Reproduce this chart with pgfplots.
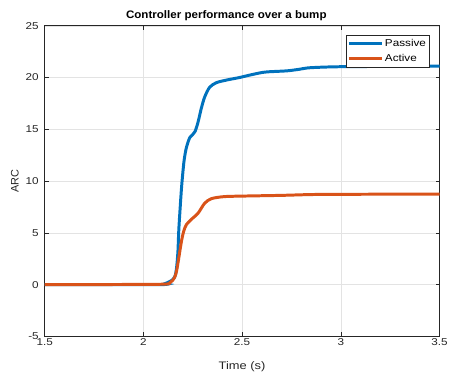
\documentclass[border=0pt]{standalone}
\usepackage{pgfplots}
\pgfplotsset{compat=1.18}
\usepackage{fontspec}
\setmainfont[FakeStretch=1.18]{Liberation Sans}
\newfontfamily\ylfont{Liberation Sans}
\newfontfamily\ttlfont[FakeStretch=1.06]{Liberation Sans}
\definecolor{mblue}{RGB}{0,114,189}
\definecolor{morange}{RGB}{217,83,25}
\definecolor{maxis}{RGB}{38,38,38}
\begin{document}
\begin{tikzpicture}
\begin{axis}[
  scale only axis, width=398pt, height=313pt,
  xmin=1.5, xmax=3.5, ymin=-5, ymax=25,
  xtick={1.5,2,2.5,3,3.5}, ytick={-5,0,5,10,15,20,25},
  xticklabels={1.5,2,2.5,3,3.5}, yticklabels={-5,0,5,10,15,20,25},
  tick align=inside, tick pos=both,
  major tick length=4pt,
  grid=major, grid style={gray!22, line width=0.5pt},
  axis line style={maxis, line width=0.6pt},
  every tick/.style={maxis, line width=0.6pt},
  tick label style={font=\fontsize{10}{12}\selectfont, text=maxis},
  xticklabel style={yshift=1.5pt},
  yticklabel style={xshift=-2.5pt},
  xlabel={Time (s)}, ylabel={\ylfont ARC},
  label style={font=\fontsize{11}{13}\selectfont, text=maxis},
  xlabel style={at={(axis description cs:0.5,0)}, anchor=north, yshift=-22pt},
  ylabel style={at={(axis description cs:-0.0754,0.5)}, anchor=center, rotate=0},
  title={Controller performance over a bump},
  every axis title/.style={font=\ttlfont\bfseries\fontsize{11}{13}\selectfont, at={(axis description cs:0.46,1)}, anchor=base, yshift=7pt},
  legend style={at={(rel axis cs:0.975,0.971)}, anchor=north east,
    font=\fontsize{10}{12}\selectfont, draw=maxis, line width=0.5pt,
    inner xsep=1.5pt, inner ysep=2pt, row sep=2.5pt},
  legend cell align=left,
  legend image code/.code={\draw[#1, line width=3pt] (0pt,0pt) -- (33pt,0pt);},
]
\addplot[mblue, line width=3pt, smooth, tension=0.45] coordinates {
(1.5,0) (2.08,0) (2.11,0.1) (2.143,0.4) (2.16,0.8) (2.168,1.6) (2.175,3.2)
(2.18,5.5) (2.193,9.3) (2.205,11.8) (2.215,13.0) (2.225,13.7) (2.235,14.2)
(2.25,14.5) (2.262,14.8) (2.277,15.7) (2.293,17.0) (2.31,18.1) (2.335,19.05)
(2.369,19.5) (2.419,19.75) (2.486,20.0) (2.53,20.2) (2.59,20.45) (2.628,20.55)
(2.728,20.65) (2.79,20.8) (2.845,20.95) (3.01,21.05) (3.5,21.1)
};
\addlegendentry{Passive}
\addplot[morange, line width=3pt, smooth, tension=0.45] coordinates {
(1.5,0) (2.076,0.03) (2.135,0.2) (2.157,0.65) (2.168,1.3) (2.177,2.3) (2.193,4.2)
(2.205,5.2) (2.218,5.8) (2.243,6.3) (2.277,6.9) (2.31,7.85) (2.344,8.3)
(2.41,8.5) (2.527,8.56) (2.7,8.62) (2.85,8.7) (3.0,8.72) (3.5,8.75)
};
\addlegendentry{Active}
\end{axis}
\path[use as bounding box] (-45pt,-40pt) rectangle (406pt,339pt);
\end{tikzpicture}
\end{document}
